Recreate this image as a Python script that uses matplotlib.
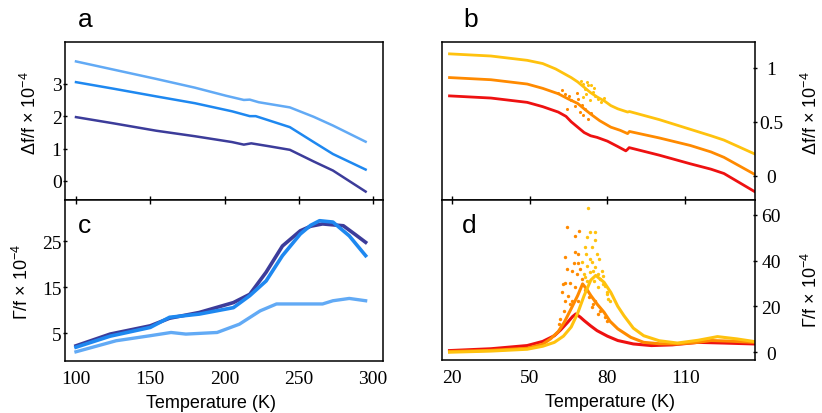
import numpy as np
import matplotlib
matplotlib.use("Agg")
import matplotlib.pyplot as plt

# colours
dark_blue = '#3c3c9a'
mid_blue = '#1e88f0'
light_blue = '#62aaf5'
yellow = '#ffc20e'
orange = '#ff8a00'
red = '#ee1111'

# panel a : df/f, high temperature
light_a_T = [100, 125, 154, 180, 201, 213, 217, 223, 244, 260, 273, 295]
light_a = [3.69, 3.44, 3.15, 2.88, 2.63, 2.50, 2.51, 2.43, 2.27, 1.98, 1.71, 1.21]
mid_a_T = [100, 125, 154, 180, 205, 217, 221, 244, 260, 273, 295]
mid_a = [3.05, 2.85, 2.61, 2.40, 2.15, 2.00, 2.00, 1.66, 1.20, 0.83, 0.35]
dark_a_T = [100, 125, 154, 180, 205, 213, 218, 230, 244, 260, 273, 295]
dark_a = [1.97, 1.78, 1.55, 1.38, 1.20, 1.12, 1.16, 1.07, 0.96, 0.60, 0.32, -0.33]

# panel b : df/f, low temperature
yel_b_T = [19, 35, 49, 55, 60, 63, 66, 68.5, 71, 73.5, 76, 79, 81.3, 84, 87.8, 88.5, 100, 112, 120, 125, 137]
yel_b = [1.13, 1.11, 1.07, 1.04, 0.99, 0.95, 0.91, 0.87, 0.82, 0.77, 0.73, 0.69, 0.65, 0.62, 0.59, 0.595, 0.52, 0.43, 0.37, 0.33, 0.20]
ora_b_T = [19, 35, 49, 55, 61, 65, 68.5, 71, 73.6, 77, 81.3, 85, 87.8, 88.5, 100, 112, 120, 125, 137]
ora_b = [0.91, 0.89, 0.85, 0.81, 0.76, 0.71, 0.67, 0.62, 0.57, 0.51, 0.45, 0.42, 0.39, 0.41, 0.35, 0.28, 0.22, 0.17, 0.01]
red_b_T = [19, 35, 49, 55, 61, 64, 66, 68.5, 71, 73.5, 76, 80, 84, 87.1, 87.6, 88.4, 100, 112, 120, 125, 137]
red_b = [0.74, 0.72, 0.68, 0.64, 0.59, 0.55, 0.50, 0.45, 0.40, 0.37, 0.355, 0.32, 0.27, 0.23, 0.24, 0.26, 0.19, 0.11, 0.06, 0.02, -0.15]
yel_b_sc_T = [70.6, 72.5, 71.2, 73.8, 71.9, 74.4, 70.6, 75.1, 73.1, 76.4, 77.7, 69.8, 72.0, 74.9, 78.5]
yel_b_sc = [0.85, 0.84, 0.80, 0.84, 0.76, 0.78, 0.73, 0.74, 0.70, 0.71, 0.68, 0.88, 0.87, 0.81, 0.72]
ora_b_sc_T = [61.0, 63.6, 68.1, 66.1, 68.7, 64.2, 67.4, 71.2, 70.6, 72.5, 69.4, 62.5, 65.0, 70.0, 73.5]
ora_b_sc = [0.77, 0.76, 0.77, 0.70, 0.71, 0.62, 0.65, 0.62, 0.56, 0.53, 0.59, 0.79, 0.74, 0.66, 0.58]

# panel c : Gamma/f, high temperature
dark_c_T = [100, 123, 150, 163, 183, 206, 217, 228, 239, 251, 258, 266, 280, 288, 295]
dark_c = [2.3, 4.85, 6.65, 8.3, 9.55, 11.7, 13.5, 18.3, 24.0, 27.3, 28.3, 28.8, 28.4, 26.5, 24.8]
mid_c_T = [100, 123, 150, 163, 183, 206, 217, 228, 239, 251, 258, 264, 273, 284, 295]
mid_c = [2.0, 4.4, 6.3, 8.5, 9.2, 10.6, 13.2, 16.4, 21.9, 26.6, 28.5, 29.5, 29.2, 26.2, 21.9]
light_c_T = [100, 127, 150, 164, 174, 195, 210, 224, 235, 250, 266, 273, 284, 295]
light_c = [1.0, 3.4, 4.5, 5.2, 4.85, 5.2, 7.0, 9.9, 11.4, 11.4, 11.4, 12.1, 12.6, 12.1]

# panel d : Gamma/f, low temperature
red_d_T = [19, 35, 49, 55, 59.5, 62, 64.6, 66.5, 67.8, 69.5, 71, 73.5, 76, 80, 84, 90, 97, 105, 115, 125, 137]
red_d = [0.7, 1.5, 2.9, 4.7, 7.2, 9.8, 13, 15.5, 16.7, 15.3, 13.8, 11.5, 9.4, 7.0, 5.1, 3.6, 2.9, 3.2, 4.3, 4.0, 3.6]
ora_d_T = [19, 35, 49, 55, 58, 61, 63.3, 66, 68.5, 70.4, 72, 73.6, 76, 78.7, 81, 84, 89, 94, 100, 107, 114, 120, 128, 137]
ora_d = [0.3, 0.8, 1.7, 3.5, 5.8, 9, 13, 19, 24.7, 29.8, 27.5, 24.7, 21, 17.4, 13.5, 10.2, 6.5, 4.3, 3.7, 3.6, 4.2, 5.1, 4.8, 4.3]
yel_d_T = [19, 35, 49, 55, 59.5, 63, 66, 68.5, 71, 73.6, 75.5, 78.7, 81.3, 84, 86.4, 90, 94, 100, 107, 115, 122.5, 130, 137]
yel_d = [0, 0.5, 1.3, 2.6, 4.3, 7, 11, 17, 24.7, 31.5, 33.5, 30.5, 26.1, 20, 15.9, 10.5, 7.2, 5.0, 4.0, 5.2, 6.8, 5.8, 4.6]
ora_d_sc_T = [64.5, 67.4, 69.1, 67.4, 68.5, 67.0, 68.8, 64.5, 69.4, 63.7, 65.7, 62.6, 64.9, 63.7, 66.2, 63.1, 68.2, 70.2,
              71.5, 74.5, 76.5, 75.2, 63.6, 66.2, 63.0, 67.4, 65.5, 68.8, 72.7, 74.0, 77.2, 79.1, 79.7, 61.8, 61.2]
ora_d_sc = [54.7, 50.5, 52.7, 43.6, 42.8, 38.8, 38.8, 36.3, 36.3, 30.1, 30.1, 26.1, 24.7, 22.5, 22.5, 18.1, 34.1, 31.9,
            27.0, 21.0, 16.7, 22.5, 41.4, 35.6, 29.8, 28.3, 21.0, 22.5, 24.0, 19.6, 18.1, 15.2, 13.8, 14.5, 12.3]
yel_d_sc_T = [72.6, 73.2, 75.1, 72.3, 75.1, 74.0, 75.9, 73.4, 76.6, 72.1, 75.2, 77.8, 78.4, 70.9, 72.3, 74.8, 79.0, 79.7,
              80.3, 71.3, 71.9, 70.0, 73.9, 74.5, 76.4, 71.3, 73.2, 77.1, 78.4, 76.4, 79.7, 80.9]
yel_d_sc = [62.9, 52.3, 52.3, 50.1, 48.9, 45.7, 42.8, 40.6, 40.6, 37.7, 37.0, 35.6, 33.4, 34.1, 31.0, 31.0, 29.0, 26.1,
            23.2, 45.7, 42.8, 39.2, 39.2, 35.6, 34.1, 32.7, 34.9, 31.9, 29.8, 28.3, 25.4, 22.5]

plt.rcParams['font.family'] = ['Liberation Sans', 'DejaVu Sans']
plt.rcParams['mathtext.default'] = 'regular'
plt.rcParams['axes.linewidth'] = 1.1

W, H = 822, 414
fig = plt.figure(figsize=(W / 100, H / 100), dpi=100)


def px_axes(x0, x1, y0, y1):
    return fig.add_axes([x0 / W, 1 - y1 / H, (x1 - x0) / W, (y1 - y0) / H])


ax_a = px_axes(65, 383, 43, 201)
ax_c = px_axes(65, 383, 201, 362)
ax_b = px_axes(442, 755, 43, 201)
ax_d = px_axes(442, 755, 201, 361)

ax_a.plot(light_a_T, light_a, color=light_blue, lw=1.8)
ax_a.plot(mid_a_T, mid_a, color=mid_blue, lw=1.8)
ax_a.plot(dark_a_T, dark_a, color=dark_blue, lw=1.8)

ax_b.plot(yel_b_T, yel_b, color=yellow, lw=2)
ax_b.plot(ora_b_T, ora_b, color=orange, lw=2)
ax_b.plot(red_b_T, red_b, color=red, lw=2)
ax_b.scatter(yel_b_sc_T, yel_b_sc, s=5, color=yellow, lw=0)
ax_b.scatter(ora_b_sc_T, ora_b_sc, s=5, color=orange, lw=0)

ax_c.plot(dark_c_T, dark_c, color=dark_blue, lw=2.6)
ax_c.plot(mid_c_T, mid_c, color=mid_blue, lw=2.6)
ax_c.plot(light_c_T, light_c, color=light_blue, lw=2.4)

ax_d.plot(red_d_T, red_d, color=red, lw=2.2)
ax_d.plot(ora_d_T, ora_d, color=orange, lw=2.2)
ax_d.plot(yel_d_T, yel_d, color=yellow, lw=2.2)
ax_d.scatter(ora_d_sc_T, ora_d_sc, s=6, color=orange, lw=0)
ax_d.scatter(yel_d_sc_T, yel_d_sc, s=6, color=yellow, lw=0)

ax_a.set_xlim(92.6, 306.7)
ax_c.set_xlim(92.6, 306.7)
ax_a.set_ylim(-0.59, 4.29)
ax_c.set_ylim(-1.0, 34.0)
ax_b.set_xlim(16.1, 137)
ax_d.set_xlim(16.1, 137)
ax_b.set_ylim(-0.226, 1.24)
ax_d.set_ylim(-3.4, 66.4)

ax_a.set_yticks([0, 1, 2, 3])
ax_c.set_yticks([5, 15, 25])
ax_c.set_xticks([100, 150, 200, 250, 300])
ax_b.set_yticks([0, 0.5, 1])
ax_b.set_yticklabels(['0', '0.5', '1'])
ax_d.set_yticks([0, 20, 40, 60])
ax_d.set_xticks([20, 50, 80, 110])

for ax in (ax_a, ax_b):
    ax.tick_params(axis='x', bottom=False, labelbottom=False)
for ax in (ax_c, ax_d):
    ax.tick_params(axis='x', top=True, bottom=False, direction='inout', length=6, width=1)
for ax in (ax_a, ax_c):
    ax.tick_params(axis='y', direction='inout', length=3, width=1, pad=1)
for ax in (ax_b, ax_d):
    ax.yaxis.tick_right()
    ax.tick_params(axis='y', direction='inout', length=3, width=1, pad=10)
for ax in (ax_a, ax_b, ax_c, ax_d):
    for lab in ax.get_xticklabels() + ax.get_yticklabels():
        lab.set_fontfamily('Liberation Serif')
        lab.set_fontsize(14)
for ax in (ax_b, ax_d):
    for lab in ax.get_yticklabels():
        lab.set_horizontalalignment('center')

ax_a.set_ylabel('Δf/f × 10$^{-4}$', fontsize=13)
ax_a.yaxis.set_label_coords(-0.079, 0.557)
ax_c.set_ylabel('Γ/f × 10$^{-4}$', fontsize=13)
ax_c.yaxis.set_label_coords(-0.104, 0.5)
ax_b.yaxis.set_label_position('right')
ax_b.set_ylabel('Δf/f × 10$^{-4}$', fontsize=13)
ax_b.yaxis.set_label_coords(1.147, 0.557)
ax_d.yaxis.set_label_position('right')
ax_d.set_ylabel('Γ/f × 10$^{-4}$', fontsize=13)
ax_d.yaxis.set_label_coords(1.147, 0.444)

ax_c.set_xlabel('Temperature (K)', fontsize=13)
ax_c.xaxis.set_label_coords(0.459, -0.205)
ax_d.set_xlabel('Temperature (K)', fontsize=13)
ax_d.xaxis.set_label_coords(0.537, -0.205)

fig.text(78 / W, 1 - 27 / H, 'a', fontsize=19, va='baseline')
fig.text(463 / W, 1 - 27 / H, 'b', fontsize=19, va='baseline')
fig.text(78 / W, 1 - 233 / H, 'c', fontsize=19, va='baseline')
fig.text(462 / W, 1 - 233 / H, 'd', fontsize=19, va='baseline')

fig.savefig('out.png', dpi=100)
